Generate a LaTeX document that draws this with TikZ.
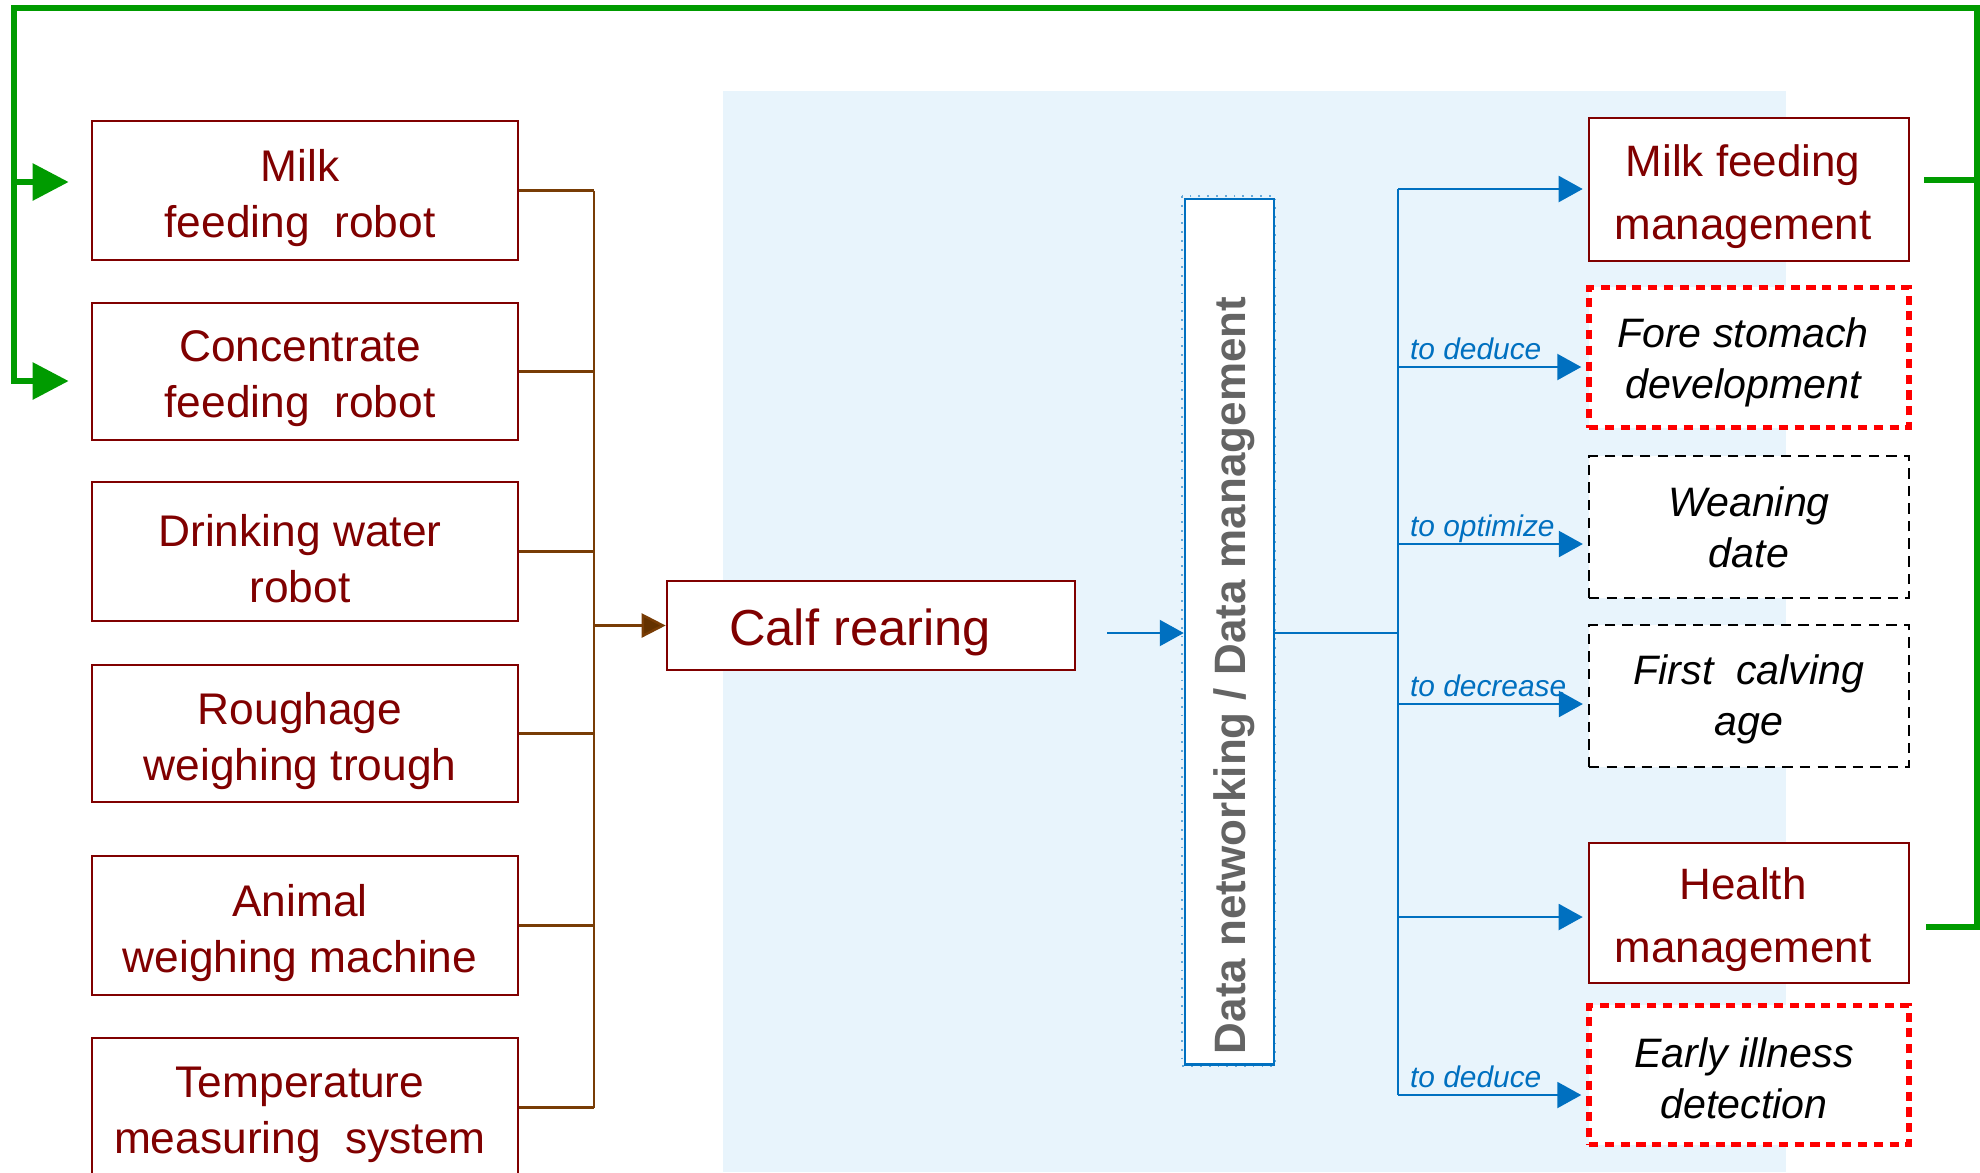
\documentclass[tikz,border=0pt]{standalone}
\usepackage{fontspec}
\setmainfont{Liberation Sans}
\usetikzlibrary{arrows.meta,calc}
\definecolor{dred}{RGB}{128,0,0}
\definecolor{brn}{RGB}{120,60,5}
\definecolor{brnhead}{RGB}{100,50,0}
\definecolor{bblue}{RGB}{0,112,192}
\definecolor{lbg}{RGB}{232,244,252}
\definecolor{grn}{RGB}{0,155,0}
\definecolor{gtext}{RGB}{100,100,100}
\definecolor{rred}{RGB}{255,0,0}
\begin{document}
\begin{tikzpicture}[x=0.01cm,y=-0.01cm,
  lbox/.style={draw=dred, line width=0.7pt, fill=white, minimum width=4.26cm, inner sep=0pt},
  ltext/.style={align=center, inner sep=0pt, text=dred, font=\fontsize{12.6}{15.9}\selectfont, xshift=-0.05cm, yshift=-0.075cm},
  calfbox/.style={draw=dred, line width=0.7pt, fill=white, minimum width=4.08cm, minimum height=0.89cm, inner sep=0pt},
  calftext/.style={inner sep=0pt, text=dred, font=\fontsize{14.4}{17}\selectfont, xshift=-0.11cm, yshift=-0.07cm},
  rsolid/.style={draw=dred, line width=0.7pt, fill=white, minimum width=3.2cm, inner sep=0pt},
  rstext/.style={align=center, inner sep=0pt, text=dred, font=\fontsize{12.5}{17.9}\selectfont, xshift=-0.06cm, yshift=-0.07cm},
  rdot/.style={draw=rred, line width=1.5pt, dash pattern=on 2.6pt off 1.9pt, fill=white, minimum width=3.2cm, inner sep=0pt},
  rdash/.style={draw=black, line width=0.6pt, dash pattern=on 3pt off 2pt, fill=white, minimum width=3.2cm, inner sep=0pt},
  ritext/.style={align=center, inner sep=0pt, text=black, font=\itshape\fontsize{11.7}{14.5}\selectfont},
  bline/.style={draw=bblue, line width=0.6pt},
  barr/.style={bline, -{Triangle[length=0.24cm,width=0.26cm]}},
  lbl/.style={text=bblue, font=\itshape\fontsize{8.5}{10}\selectfont, inner sep=0pt},
  brline/.style={draw=brn, line width=0.7pt},
  gline/.style={draw=grn, line width=1.7pt},
  gar/.style={gline, -{Triangle[length=0.36cm,width=0.36cm]}}
]
\clip (0,0) rectangle (1980,1172);
\fill[lbg] (723,91) rectangle (1786,1172);

% left boxes
\node[lbox, minimum height=1.39cm, label={[ltext]center:{Milk\\feeding~~robot}}] (b1) at (305,190.5) {};
\node[lbox, minimum height=1.37cm, label={[ltext]center:{Concentrate\\feeding~~robot}}] (b2) at (305,371.5) {};
\node[lbox, minimum height=1.39cm, label={[ltext]center:{Drinking water\\robot}}] (b3) at (305,551.5) {};
\node[lbox, minimum height=1.37cm, label={[ltext]center:{Roughage\\weighing trough}}] (b4) at (305,733.5) {};
\node[lbox, minimum height=1.39cm, label={[ltext]center:{Animal\\weighing machine}}] (b5) at (305,925.5) {};
\node[lbox, minimum height=1.39cm, label={[ltext]center:{Temperature\\measuring~~system}}] (b6) at (305,1107.5) {};

% calf rearing
\node[calfbox, label={[calftext]center:Calf rearing}] (calf) at (871,625.5) {};

% brown bus
\coordinate (lbus) at (594,0);
\foreach \b in {b1,b2,b3,b4,b5,b6}{
  \draw[brline] (\b.east) -- (\b.east -| lbus);
}
\draw[brline] (b1.east -| lbus) -- (b6.east -| lbus);
\draw[brline, -{Triangle[length=0.24cm,width=0.24cm,fill=brnhead]}] (calf.west -| lbus) -- (calf.west);

% data networking box
\draw[bblue!60, dotted, line width=0.5pt] (1182,196) rectangle (1275,1066);
\node[draw=bblue, line width=0.7pt, fill=white, minimum width=0.89cm, minimum height=8.65cm, inner sep=0pt] (dn) at (1229.5,631.5) {};
\node[rotate=90, anchor=base, inner sep=0pt, text=gtext, font=\bfseries\fontsize{12.5}{15}\selectfont] (dnt) at (1245,675.5) {Data networking / Data management};

% arrow into data box
\coordinate (cin) at ($(calf.east)+(31,7.5)$);
\draw[barr] (cin) -- (cin -| dn.west);

% right boxes
\node[rsolid, minimum height=1.43cm, label={[rstext]center:{Milk feeding\\management}}] (r1) at (1749,189.5) {};
\node[rdot, minimum height=1.40cm, label={[ritext, xshift=-0.06cm, yshift=-0.05cm]center:{Fore stomach\\development}}] (r2) at (1749,357.5) {};
\node[rdash, minimum height=1.42cm, label={[ritext]center:{Weaning\\date}}] (r3) at (1749,527) {};
\node[rdash, minimum height=1.42cm, label={[ritext, yshift=-0.03cm]center:{First~~calving\\age}}] (r4) at (1749,696) {};
\node[rsolid, minimum height=1.40cm, label={[rstext]center:{Health\\management}}] (r5) at (1749,913) {};
\node[rdot, minimum height=1.39cm, label={[ritext, xshift=-0.05cm, yshift=-0.03cm]center:{Early illness\\detection}}] (r6) at (1749,1075) {};

% right blue bus
\coordinate (rbus) at (1398,0);
\coordinate (t1) at ($(r1.west)+(-5,-0.5)$);
\coordinate (t2) at ($(r2.west)+(-5,9.5)$);
\coordinate (t3) at ($(r3.west)+(-5,17)$);
\coordinate (t4) at ($(r4.west)+(-5,8)$);
\coordinate (t5) at ($(r5.west)+(-5,4)$);
\coordinate (t6) at ($(r6.west)+(-5,20)$);
\coordinate (dout) at ($(dn.east)+(0,1.5)$);
\draw[bline] (dout) -- (dout -| rbus);
\draw[bline] (t1 -| rbus) -- (t6 -| rbus);
\draw[barr] (t1 -| rbus) -- (t1);
\draw[barr] (t2 -| rbus) -- (t2) node[pos=0, anchor=base west, xshift=0.11cm, yshift=0.075cm, lbl] {to deduce};
\draw[barr] (t3 -| rbus) -- (t3) node[pos=0, anchor=base west, xshift=0.11cm, yshift=0.075cm, lbl] {to optimize};
\draw[barr] (t4 -| rbus) -- (t4) node[pos=0, anchor=base west, xshift=0.11cm, yshift=0.08cm, lbl] {to decrease};
\draw[barr] (t5 -| rbus) -- (t5);
\draw[barr] (t6 -| rbus) -- (t6) node[pos=0, anchor=base west, xshift=0.11cm, yshift=0.075cm, lbl] {to deduce};

% green feedback loop
\coordinate (gTL) at (14,8);
\coordinate (gTR) at (1977,8);
\coordinate (g1) at ($(b1.west)+(-22,-8.5)$);
\coordinate (g2) at ($(b2.west)+(-22,9.5)$);
\coordinate (h5) at ($(r5.east)+(16,14)$);
\coordinate (h1) at ($(r1.east)+(14,-9.5)$);
\draw[gar] (h5) -| (gTR) -- (gTL) |- (g2);
\draw[gar] (g1 -| gTL) -- (g1);
\draw[gline] (h1) -- (h1 -| gTR);
\end{tikzpicture}
\end{document}
